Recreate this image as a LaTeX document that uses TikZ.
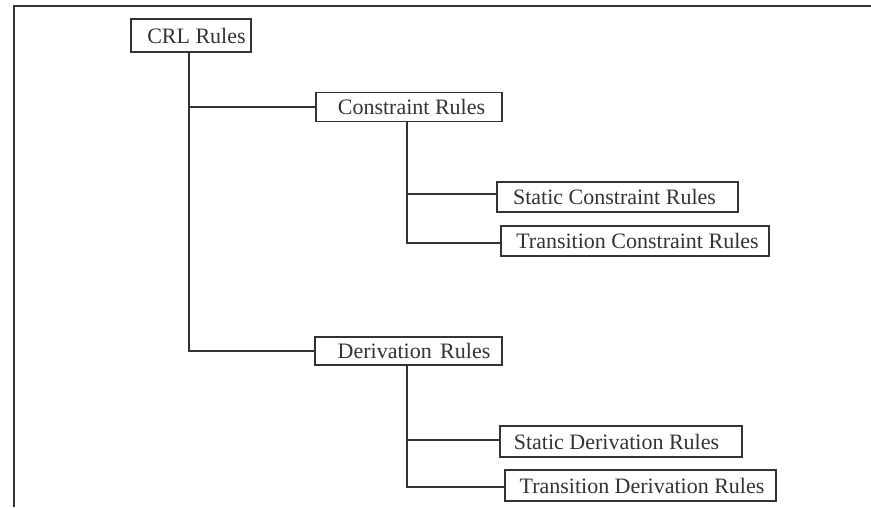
\documentclass[tikz,border=0pt]{standalone}
\usepackage{fontspec}
\setmainfont{Liberation Serif}
\begin{document}
\begin{tikzpicture}[x=1pt,y=-1pt,
  ink/.style={draw=black!80, line width=1.8pt},
  rulebox/.style={ink, rectangle, inner sep=0pt, text=black!80,
    font=\fontsize{22}{26}\selectfont, fill=white},
  link/.style={ink}]
\useasboundingbox (0,0) rectangle (871,507);
\fill[white] (0,0) rectangle (871,507);
% frame
\coordinate (ftr) at (871,6);
\coordinate (fc) at (14,6);
\coordinate (fbl) at (14,507);
\draw[ink] (ftr) -- (fc) -- (fbl);
% nodes
\node[rulebox, minimum width=120, minimum height=33] (crl) at (191,35.5) {\hspace*{11pt}CRL Rules};
\node[rulebox, minimum width=186, minimum height=29] (cons) at (409,107) {\hspace*{5pt}Constraint Rules};
\node[rulebox, minimum width=241, minimum height=30] (sc) at (617.5,197) {Static Constraint Rules\hspace*{6pt}};
\node[rulebox, minimum width=268, minimum height=30] (tc) at (635,241) {\hspace*{5pt}Transition Constraint Rules};
\node[rulebox, minimum width=187, minimum height=28] (der) at (408.5,351) {\hspace*{11pt}Derivation\hspace{3pt} Rules};
\node[rulebox, minimum width=242, minimum height=31] (sd) at (621,441.5) {Static Derivation Rules\hspace*{9pt}};
\node[rulebox, minimum width=271, minimum height=31] (td) at (640.5,485.5) {\hspace*{3pt}Transition Derivation Rules};
% connectors
\draw[link] ([xshift=-2pt]crl.south) |- (cons.west);
\draw[link] ([xshift=-2pt]crl.south) |- (der.west);
\draw[link] ([xshift=-2pt]cons.south) |- ([yshift=3pt]sc.west);
\draw[link] ([xshift=-2pt]cons.south) |- ([yshift=-2pt]tc.west);
\draw[link] ([xshift=-1.5pt]der.south) |- ([yshift=1.5pt]sd.west);
\draw[link] ([xshift=-1.5pt]der.south) |- ([yshift=-1.5pt]td.west);
\end{tikzpicture}
\end{document}
